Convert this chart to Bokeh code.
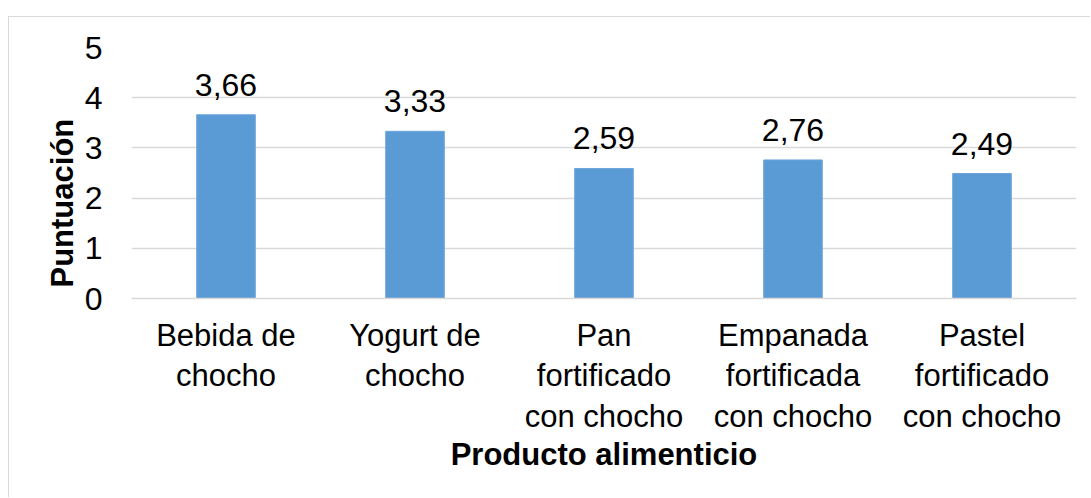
from bokeh.plotting import figure
from bokeh.models import ColumnDataSource, FixedTicker, Title
from bokeh.embed import file_html
from bokeh.resources import INLINE

# Puntuación media por producto alimenticio
productos = [
    "Bebida de\nchocho",
    "Yogurt de\nchocho",
    "Pan\nfortificado\ncon chocho",
    "Empanada\nfortificada\ncon chocho",
    "Pastel\nfortificado\ncon chocho",
]
puntuacion = [3.66, 3.33, 2.59, 2.76, 2.49]
y_ticks = [0, 1, 2, 3, 4, 5]

etiquetas = [f"{v:.2f}".replace(".", ",") for v in puntuacion]
source = ColumnDataSource(data=dict(producto=productos, valor=puntuacion, etiqueta=etiquetas))

FONT = "Liberation Sans"
GRID = "#d9d9d9"

p = figure(
    x_range=productos,
    y_range=(0, 5),
    width=1082,
    height=481,
    output_backend="svg",
    toolbar_location=None,
    min_border_left=122,
    min_border_right=15,
    min_border_top=30,
    min_border_bottom=200,
)
p.styles = {
    "margin-left": "8px",
    "margin-top": "16px",
    "border-left": "1.5px solid #d9d9d9",
    "border-top": "1.5px solid #d9d9d9",
}
p.outline_line_color = None
p.background_fill_color = "white"
p.border_fill_color = "white"

p.vbar(x="producto", top="valor", width=0.31, source=source,
       fill_color="#5b9bd5", line_color="#6aa5dc", line_width=1)

p.text(x="producto", y="valor", text="etiqueta", source=source,
       text_align="center", text_baseline="alphabetic", y_offset=-30,
       text_font_size="32px", text_font={"value": FONT}, text_color="#000000")

# ejes
p.yaxis.ticker = FixedTicker(ticks=y_ticks)
p.yaxis.axis_line_color = None
p.yaxis.major_tick_line_color = None
p.yaxis.minor_tick_line_color = None
p.yaxis.major_label_standoff = 23
p.yaxis.major_label_text_font = FONT
p.yaxis.major_label_text_font_size = "32px"
p.yaxis.major_label_text_color = "#000000"

p.xaxis.axis_line_color = GRID
p.xaxis.axis_line_width = 1.5
p.xaxis.major_tick_line_color = None
p.xaxis.minor_tick_line_color = None
p.xaxis.major_label_standoff = 13
p.xaxis.major_label_text_font = FONT
p.xaxis.major_label_text_font_size = "31px"
p.xaxis.major_label_text_line_height = 1.16
p.xaxis.major_label_text_color = "#000000"
p.xaxis.axis_label = "Producto alimenticio"
p.xaxis.axis_label_text_font = FONT
p.xaxis.axis_label_text_font_size = "31px"
p.xaxis.axis_label_text_font_style = "bold"
p.xaxis.axis_label_text_color = "#000000"
p.xaxis.axis_label_standoff = 0

p.xgrid.grid_line_color = None
p.ygrid.grid_line_color = GRID
p.ygrid.grid_line_width = 1.5

# título del eje vertical, anclado al pie del área de trazado
p.add_layout(Title(
    text="Puntuación", align="left", offset=11, standoff=4,
    text_font=FONT, text_font_size="31px", text_font_style="bold",
    text_color="#000000",
), "left")

open("out.html", "w").write(file_html(p, INLINE))
